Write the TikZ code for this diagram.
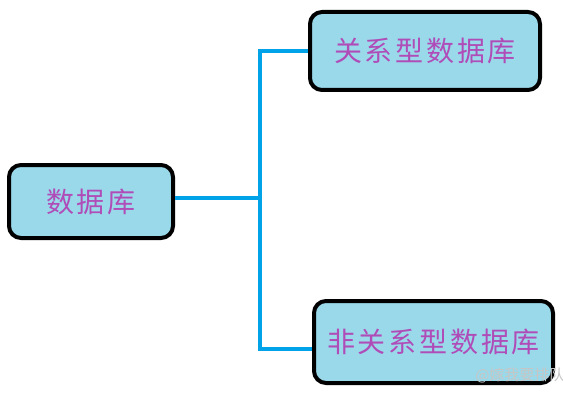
\documentclass[tikz,border=0pt]{standalone}
\usepackage{fontspec}
\newfontfamily\cjk[LetterSpace=10]{Noto Sans CJK SC}
\newfontfamily\cjkplain{Noto Sans CJK SC}
\usetikzlibrary{positioning,calc}
\definecolor{boxfill}{HTML}{9AD9EA}
\definecolor{txtpurple}{HTML}{B04CB8}
\definecolor{linkblue}{HTML}{00A2E8}

\begin{document}
\begin{tikzpicture}[
      x=1pt, y=-1pt,
      st/.style={draw,line width=4pt,rounded corners=12pt,fill=boxfill,
        text=txtpurple,font=\cjk\fontsize{28}{32}\selectfont},
      link/.style={draw=linkblue,line width=4pt},
      wm/.style={font=\cjkplain\fontsize{15}{17}\selectfont,text=gray!45},
    ]
    \useasboundingbox (0,0) rectangle (563,396);
    \node[st,minimum width=164pt,minimum height=73pt] (db) at (91,201.5) {数据库};
    \node[st,minimum width=230pt,minimum height=78pt] (rel) at (425,51) {关系型数据库};
    \node[st,minimum width=239pt,minimum height=82pt] (nonrel) at (433.5,342) {非关系型数据库};
    \coordinate (split) at (260,198);
    \draw[link] (db.east |- split) -- (split);
    \draw[link] (split) |- (rel.west);
    \draw[link] (split) |- ([yshift=-7pt]nonrel.west);
    \node[wm,anchor=east] (mark) at (568,375) {@嫁我要排队};
  \end{tikzpicture}
\end{document}
